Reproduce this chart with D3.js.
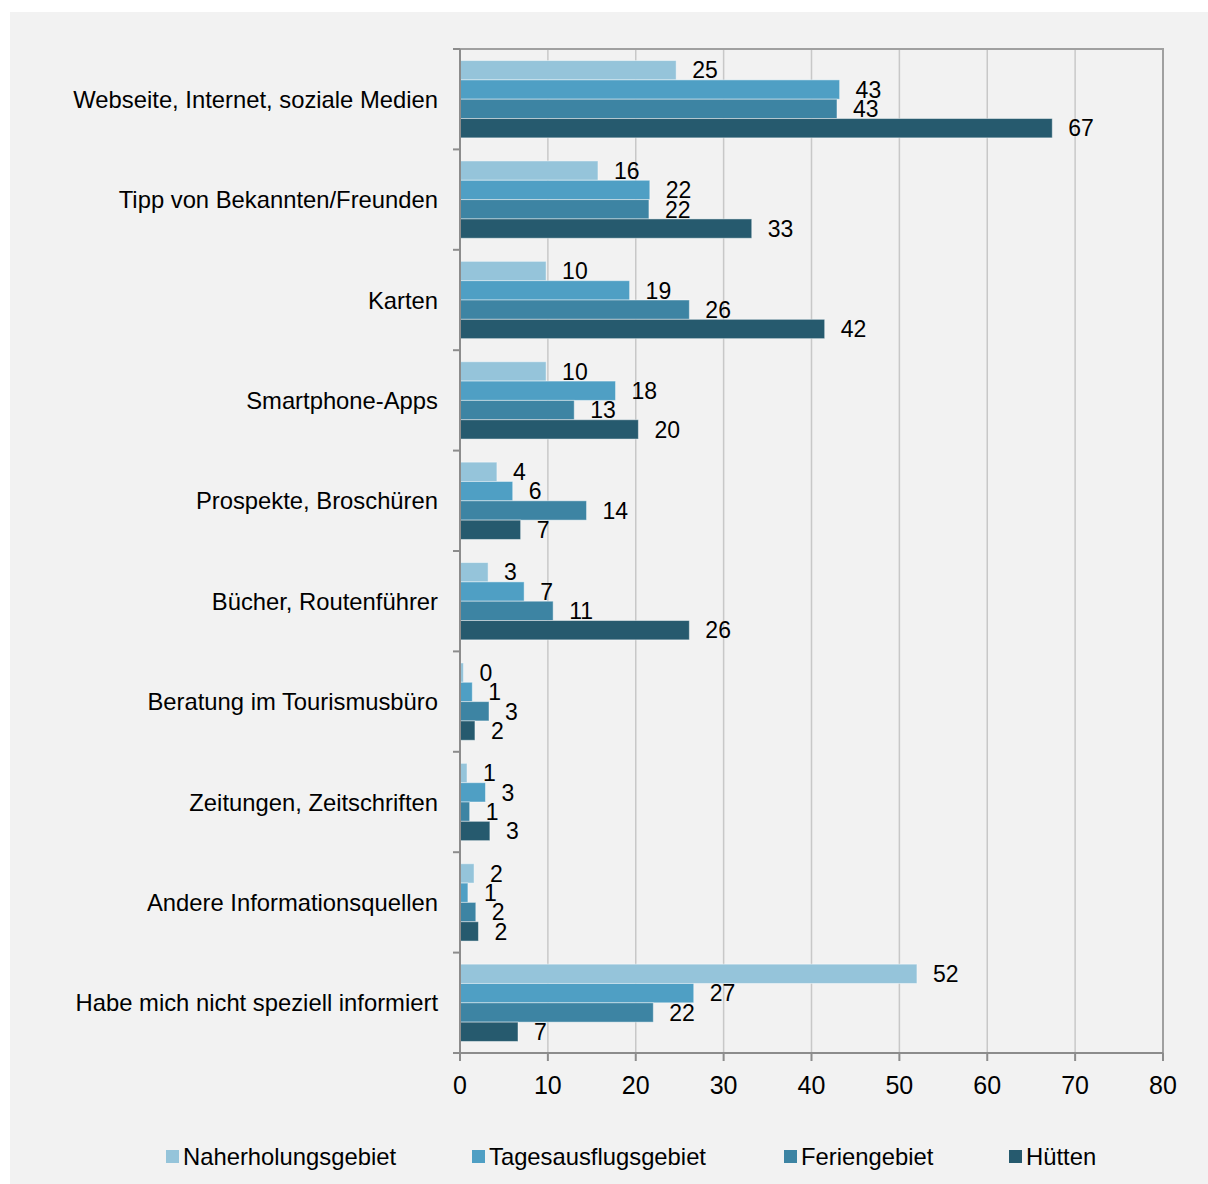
<!DOCTYPE html>
<html>
<head>
<meta charset="utf-8">
<script src="https://cdn.jsdelivr.net/npm/d3@7"></script>
<style>
  html, body { margin: 0; padding: 0; background: #ffffff; }
  svg { display: block; }
  text { font-family: "Liberation Sans", Arial, sans-serif; fill: #000; }
</style>
</head>
<body>
<svg id="chart" width="1208" height="1184"></svg>
<script>
const categories = [
  "Webseite, Internet, soziale Medien",
  "Tipp von Bekannten/Freunden",
  "Karten",
  "Smartphone-Apps",
  "Prospekte, Broschüren",
  "Bücher, Routenführer",
  "Beratung im Tourismusbüro",
  "Zeitungen, Zeitschriften",
  "Andere Informationsquellen",
  "Habe mich nicht speziell informiert"
];
const seriesNames = ["Naherholungsgebiet", "Tagesausflugsgebiet", "Feriengebiet", "Hütten"];
const naherholung = [24.6, 15.7, 9.8, 9.8, 4.2, 3.2, 0.4, 0.8, 1.6, 52.0];
const tagesausflug = [43.2, 21.6, 19.3, 17.7, 6.0, 7.3, 1.4, 2.9, 0.9, 26.6];
const ferien = [42.9, 21.5, 26.1, 13.0, 14.4, 10.6, 3.3, 1.1, 1.8, 22.0];
const huetten = [67.4, 33.2, 41.5, 20.3, 6.9, 26.1, 1.7, 3.4, 2.1, 6.6];
const xTicks = [0, 10, 20, 30, 40, 50, 60, 70, 80];
const colors = ["#95c4da", "#4f9fc4", "#3d84a3", "#265a6e"];

const seriesValues = [naherholung, tagesausflug, ferien, huetten];

(function () {
const svg = d3.select("#chart");
// panel
svg.append("rect").attr("x", 10).attr("y", 12).attr("width", 1198).attr("height", 1172).attr("fill", "#f2f2f2");

const pLeft = 460, pRight = 1163, pTop = 49, pBottom = 1053;
const x = d3.scaleLinear().domain([0, 80]).range([pLeft, pRight]);
const y = d3.scaleBand().domain(categories).range([pTop, pBottom]).paddingInner(0.23).paddingOuter(0.115);
const ySub = d3.scaleBand().domain(seriesNames).range([0, y.bandwidth()]);

// gridlines
svg.append("g").selectAll("line").data(xTicks.slice(1, -1)).join("line")
  .attr("x1", d => x(d)).attr("x2", d => x(d))
  .attr("y1", pTop).attr("y2", pBottom)
  .attr("stroke", "#c8c8c8").attr("stroke-width", 1.5);

// frame top & right
svg.append("path")
  .attr("d", `M${pLeft},${pTop}H${pRight}V${pBottom}`)
  .attr("fill", "none").attr("stroke", "#a0a0a0").attr("stroke-width", 2);

// bars
const groups = svg.append("g").selectAll("g").data(categories).join("g")
  .attr("transform", d => `translate(0,${y(d)})`);

groups.each(function(cat, ci) {
  const g = d3.select(this);
  seriesNames.forEach((s, si) => {
    const v = seriesValues[si][ci];
    g.append("rect")
      .attr("x", x(0))
      .attr("y", ySub(s))
      .attr("width", x(v) - x(0))
      .attr("height", ySub.bandwidth())
      .attr("fill", colors[si])
      .attr("stroke", "rgba(255,255,255,0.45)")
      .attr("stroke-width", 1);
    g.append("text")
      .attr("x", x(v) + 16)
      .attr("y", ySub(s) + ySub.bandwidth() / 2)
      .attr("dy", "0.36em")
      .attr("font-size", 23)
      .text(d3.format(".0f")(v));
  });
});

// y axis
const yAxisG = svg.append("g");
yAxisG.append("line").attr("x1", pLeft).attr("x2", pLeft).attr("y1", pTop).attr("y2", pBottom)
  .attr("stroke", "#8c8c8c").attr("stroke-width", 2);
const n = categories.length;
const boundaries = d3.range(n + 1).map(i => pTop + i * (pBottom - pTop) / n);
yAxisG.selectAll("line.tick").data(boundaries).join("line").attr("class", "tick")
  .attr("x1", pLeft - 7).attr("x2", pLeft).attr("y1", d => d).attr("y2", d => d)
  .attr("stroke", "#8c8c8c").attr("stroke-width", 2);
yAxisG.selectAll("text").data(categories).join("text")
  .attr("x", 438)
  .attr("y", (d, i) => pTop + (i + 0.5) * (pBottom - pTop) / n)
  .attr("dy", "0.36em")
  .attr("text-anchor", "end")
  .attr("font-size", 23.8)
  .text(d => d);

// x axis
const xAxisG = svg.append("g");
xAxisG.append("line").attr("x1", pLeft - 7).attr("x2", pRight).attr("y1", pBottom).attr("y2", pBottom)
  .attr("stroke", "#8c8c8c").attr("stroke-width", 2);
xAxisG.selectAll("line.tick").data(xTicks).join("line").attr("class", "tick")
  .attr("x1", d => x(d)).attr("x2", d => x(d)).attr("y1", pBottom).attr("y2", pBottom + 8)
  .attr("stroke", "#8c8c8c").attr("stroke-width", 2);
xAxisG.selectAll("text").data(xTicks).join("text")
  .attr("x", d => x(d)).attr("y", 1085).attr("dy", "0.36em")
  .attr("text-anchor", "middle").attr("font-size", 25)
  .text(d => d);

// legend
const legendX = [166, 472, 784, 1009];
const legend = svg.append("g").selectAll("g").data(seriesNames).join("g")
  .attr("transform", (d, i) => `translate(${legendX[i]},1156)`);
legend.append("rect").attr("x", 0).attr("y", -6).attr("width", 13).attr("height", 13)
  .attr("fill", (d, i) => colors[i]);
legend.append("text").attr("x", 17).attr("y", 0).attr("dy", "0.36em")
  .attr("font-size", 23.8).text(d => d);
})();
</script>
</body>
</html>
